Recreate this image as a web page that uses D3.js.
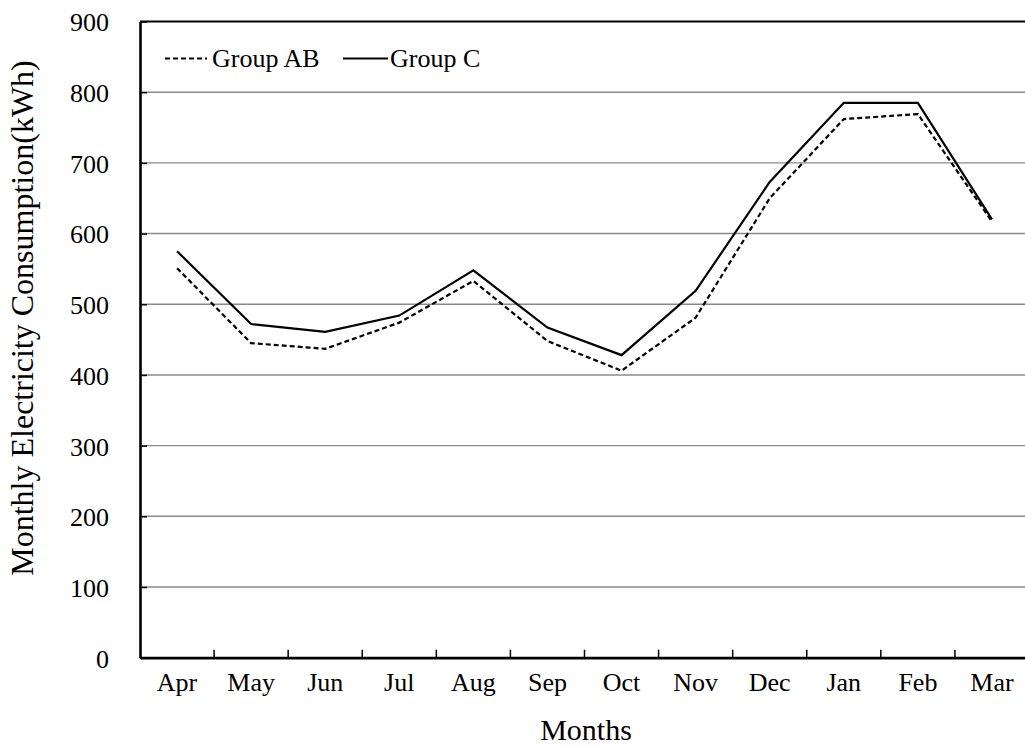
<!DOCTYPE html>
<html>
<head>
<meta charset="utf-8">
<script src="https://cdn.jsdelivr.net/npm/d3@7"></script>
<style>
  html, body { margin: 0; padding: 0; background: #fff; overflow: hidden; }
  text { font-family: "Liberation Serif", "Times New Roman", serif; fill: #000; }
</style>
</head>
<body>
<svg id="chart" width="1025" height="747"></svg>
<script>
const months = ["Apr","May","Jun","Jul","Aug","Sep","Oct","Nov","Dec","Jan","Feb","Mar"];
const groupAB = [551, 445, 437, 474, 533, 448, 406, 481, 650, 762, 769, 617];
const groupC  = [575, 472, 461, 484, 548, 467, 428, 519, 673, 785, 785, 620];
const yTicks = [0, 100, 200, 300, 400, 500, 600, 700, 800, 900];
const seriesNames = ["Group AB", "Group C"];
const xTitle = "Months";
const yTitle = "Monthly Electricity Consumption(kWh)";

const svg = d3.select("#chart");
const L = 140, R = 1029, T = 21.5, B = 657.7;

const x = d3.scaleBand().domain(months).range([L, R]).paddingInner(0).paddingOuter(0);
const y = d3.scaleLinear().domain([0, 900]).range([B, T]);
const cx = m => x(m) + x.bandwidth() / 2;

// gridlines
svg.append("g").selectAll("line")
  .data(yTicks.filter(v => v > 0 && v < 900))
  .join("line")
  .attr("x1", L).attr("x2", R)
  .attr("y1", d => y(d)).attr("y2", d => y(d))
  .attr("stroke", "#8a8a8a").attr("stroke-width", 1.4);

// top border
svg.append("line").attr("x1", L).attr("x2", R).attr("y1", y(900)).attr("y2", y(900))
  .attr("stroke", "#000").attr("stroke-width", 2.2);

// y axis
const yAxis = svg.append("g").attr("transform", `translate(${L},0)`)
  .call(d3.axisLeft(y).tickValues(yTicks).tickSize(-7).tickPadding(31).tickSizeOuter(0));
yAxis.select(".domain").attr("stroke", "#000").attr("stroke-width", 2.6);
yAxis.selectAll(".tick line").attr("stroke", "#000").attr("stroke-width", 1.5);
yAxis.selectAll(".tick text").attr("font-size", 26).attr("font-family", "Liberation Serif").attr("dy", "0.36em");

// x axis labels
const xAxis = svg.append("g").attr("transform", `translate(0,${B})`)
  .call(d3.axisBottom(x).tickSize(0).tickPadding(33).tickSizeOuter(0));
xAxis.select(".domain").attr("stroke", "#000").attr("stroke-width", 2.8);
xAxis.selectAll(".tick text").attr("font-size", 26).attr("font-family", "Liberation Serif").attr("dy", "0");

// x boundary ticks
svg.append("g").selectAll("line")
  .data(months.slice(1))
  .join("line")
  .attr("x1", d => x(d)).attr("x2", d => x(d))
  .attr("y1", B).attr("y2", B - 8)
  .attr("stroke", "#000").attr("stroke-width", 1.5);

// lines
const line = d3.line().x((d, i) => cx(months[i])).y(d => y(d));
svg.append("path").datum(groupAB).attr("d", line)
  .attr("fill", "none").attr("stroke", "#000").attr("stroke-width", 2.2)
  .attr("stroke-dasharray", "5,3");
svg.append("path").datum(groupC).attr("d", line)
  .attr("fill", "none").attr("stroke", "#000").attr("stroke-width", 2.2);

// legend
const leg = svg.append("g");
leg.append("line").attr("x1", 165).attr("x2", 207).attr("y1", 58.5).attr("y2", 58.5)
  .attr("stroke", "#000").attr("stroke-width", 2.2).attr("stroke-dasharray", "5,3");
leg.append("text").attr("x", 212).attr("y", 67.3).attr("font-size", 26).text(seriesNames[0]);
leg.append("line").attr("x1", 343).attr("x2", 388).attr("y1", 58.5).attr("y2", 58.5)
  .attr("stroke", "#000").attr("stroke-width", 2.2);
leg.append("text").attr("x", 390).attr("y", 67.3).attr("font-size", 26).text(seriesNames[1]);

// titles
svg.append("text").attr("x", 586).attr("y", 740).attr("text-anchor", "middle")
  .attr("font-size", 30).text(xTitle);
svg.append("text").attr("transform", "translate(33,318) rotate(-90)")
  .attr("text-anchor", "middle").attr("font-size", 32).text(yTitle);
</script>
</body>
</html>
